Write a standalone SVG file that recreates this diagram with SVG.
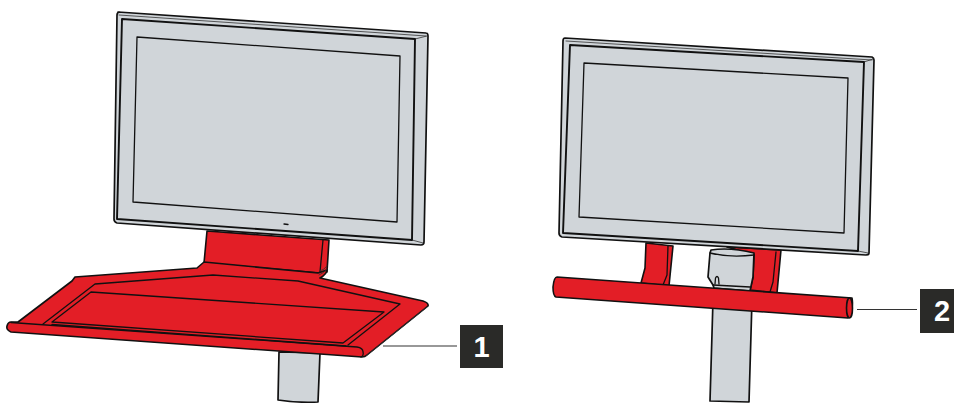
<svg xmlns="http://www.w3.org/2000/svg" width="954" height="403" viewBox="0 0 954 403">
<style>
.g{fill:#d0d5d9;stroke:#111;stroke-width:1.7;stroke-linejoin:round}
.r{fill:#e31e26;stroke:#111;stroke-width:1.6;stroke-linejoin:round}
.t{fill:none;stroke:#111;stroke-width:1.3;stroke-linejoin:round;stroke-linecap:round}
.f{fill:none;stroke:#333;stroke-width:.8;stroke-linejoin:round;stroke-linecap:round}
.m{fill:none;stroke:#111;stroke-width:1.9;stroke-linejoin:round}
.b{fill:#2a2a28}
.n{fill:#fff;font-family:"Liberation Sans",Arial,sans-serif;font-weight:700;font-size:29px;text-anchor:middle}
.l{fill:none;stroke:#333;stroke-width:1.2}
</style>
<g id="left-pole"><path class="g" d="M279 352 L278 400 Q298 403 318 402 L320 353 Z"/></g>
<g id="left-arm">
<path class="r" d="M207 231 L204 263 L320 273 L327 272 L329 240 Z"/>
<path class="t" d="M323 240 L320 272"/>
</g>
<g id="left-tray">
<path class="r" d="M18 322 L72 281 L75 277 L197 268 L204 262 L318 273 L327 270 Q327 274 320 278 L423 301 Q429 303 428 306 L367 355 Q365 357 362 357 L11 332 Q6 330 7 326 Q8 322 11 322 Z"/>
<path class="t" d="M43 324 L95 284 L213 275 L298 281 L400 304 L348 345"/>
<path class="t" d="M52 322 L91 292 L384 312 L343 343 L52 322"/>
<path class="t" d="M11 322.500 L357 347 Q363 348 363 352 Q364 356 361 357"/>
<path class="t" d="M52 324.500 L346 346"/>
<path class="f" d="M320 271 Q324 270 327 266"/>
<path class="f" d="M319 275 Q324 273 327 269"/>
<path class="f" d="M427 307 L366 356"/>
</g>
<g id="left-monitor">
<path class="g" d="M118 12 L426 33 Q428 33 428 36 L424 242 Q424 245 421 245 L117 223 Q114 222 114 219 L117 15 Q117 12 120 12 Z"/>
<path class="f" d="M119 15 L426 36"/>
<path class="f" d="M415 39 L427 36"/>
<path class="f" d="M412 240 L423 243"/>
<path class="m" d="M122 19 L415 39 L412 240 L117 219 Z"/>
<path class="t" d="M137 37 L400 56 L397 222 L133 202 Z"/>
<path class="t" d="M284 224 L288 224.500"/>
</g>
<g id="right-pole"><path class="g" d="M713 300 L710 401 L749 402 L752 300 Z"/></g>
<g id="right-arms">
<path class="r" d="M646 243 L645 268 L641 283 L669 286 L673 246 Z"/>
<path class="t" d="M668 246 L667 275 L663 285"/>
<path class="r" d="M727 247 L781 250 L777 293 L750 290 L753 277 L754 255 Z"/>
<path class="t" d="M776 252 L773 282 L770 292"/>
</g>
<g id="right-collar">
<path class="g" d="M711 250 L710 253 L708 277 L713 285 L714 288 L750 291 L753 277 L754 253 Q730 247 711 250 Z"/>
<path class="t" d="M710 253 Q730 258 754 255"/>
<path class="t" d="M715 284 L715.500 278 Q717 275 718.500 278 L719 284"/>
<path class="t" d="M713 285 L750 287"/>
</g>
<g id="right-tube">
<path class="r" d="M557 277 L852 298 Q854 308 848 318 L556 297 Q553 296 553 287 Q554 277 557 277 Z"/>
<ellipse class="r" cx="849.500" cy="308" rx="3" ry="10"/>
</g>
<g id="right-monitor">
<path class="g" d="M565 38 L872 57 Q874 58 874 60 L869 253 Q869 255 866 255 L562 237 Q559 236 559 233 L563 41 Q563 38 565 38 Z"/>
<path class="f" d="M566 41 L872 60"/>
<path class="f" d="M864 62 L873 59"/>
<path class="f" d="M858 251 L868 253"/>
<path class="m" d="M570 45 L864 62 L858 251 L563 233 Z"/>
<path class="t" d="M584 63 L848 78 L844 233 L579 217 Z"/>
</g>
<g id="connectors">
<path class="l" d="M383 346 L457 346"/>
<path class="l" d="M857 309.500 L917 309.500"/>
</g>
<g id="label-1"><rect class="b" x="460" y="325" width="43" height="43"/><text class="n" x="481.500" y="357">1</text></g>
<g id="label-2"><rect class="b" x="920" y="289" width="44" height="44"/><text class="n" x="942" y="321">2</text></g>
</svg>
